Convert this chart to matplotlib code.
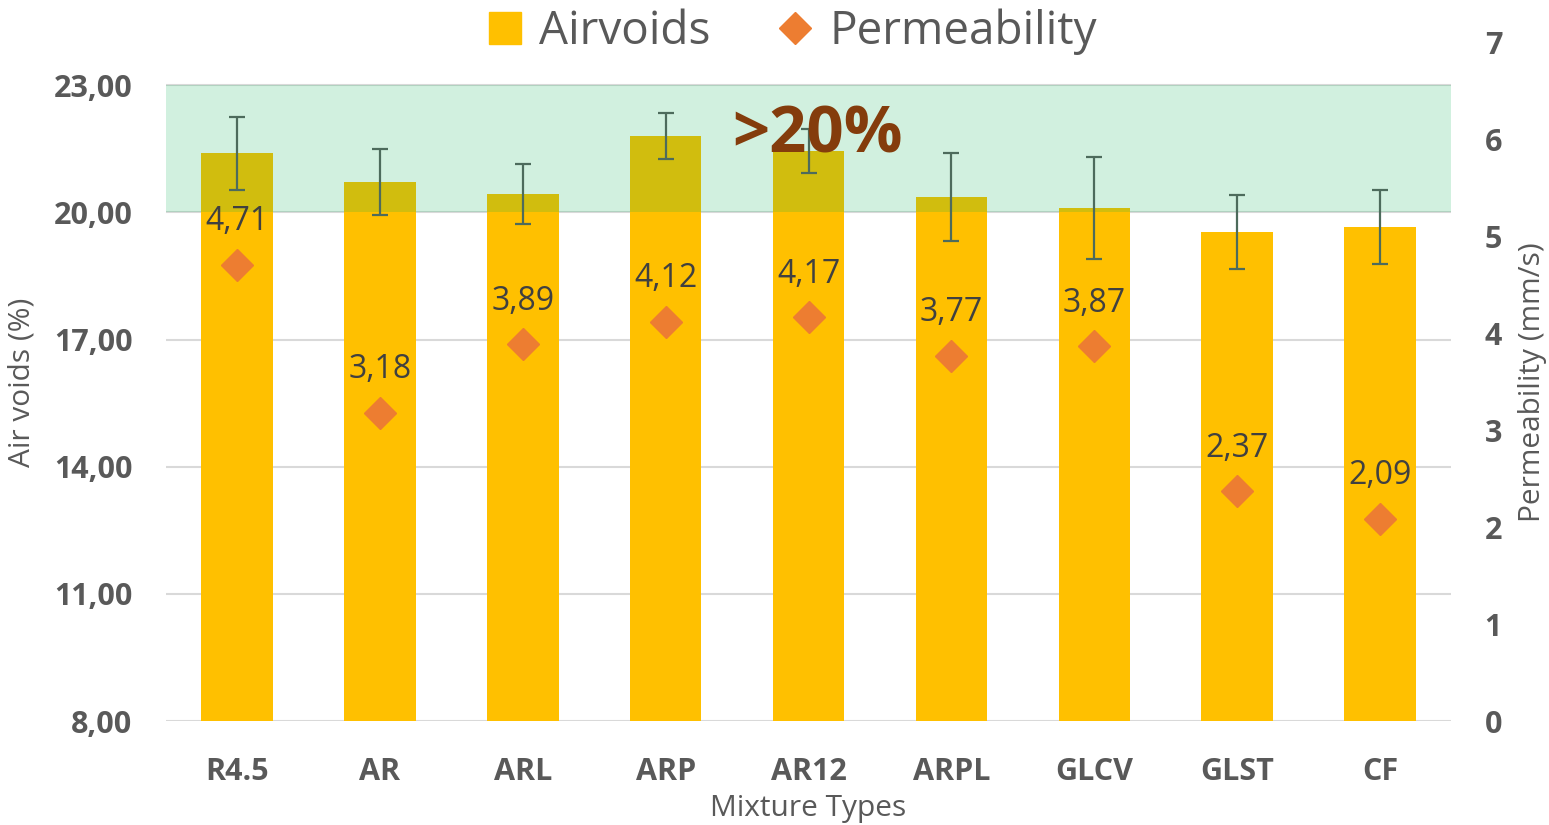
import numpy as np
import matplotlib
matplotlib.use("Agg")
import matplotlib.pyplot as plt
from matplotlib.lines import Line2D
from matplotlib.patches import Patch

plt.rcParams['font.family'] = ['Open Sans', 'DejaVu Sans']

# data
mixtures = ["R4.5", "AR", "ARL", "ARP", "AR12", "ARPL", "GLCV", "GLST", "CF"]
airvoids = [21.40, 20.72, 20.44, 21.81, 21.45, 20.37, 20.11, 19.54, 19.66]
airvoids_err = [0.86, 0.77, 0.71, 0.54, 0.52, 1.04, 1.20, 0.88, 0.87]
permeability = [4.71, 3.18, 3.89, 4.12, 4.17, 3.77, 3.87, 2.37, 2.09]
left_ticks = [8, 11, 14, 17, 20, 23]
right_ticks = [0, 1, 2, 3, 4, 5, 6, 7]

gray = '#595959'
bar_col = '#FFC000'
dia_col = '#ED7D31'

fig = plt.figure(figsize=(15.49, 8.25), dpi=100)
ax = fig.add_axes([0.107, 0.126, 0.830, 0.822])
x = np.arange(len(mixtures))

ax.bar(x, airvoids, width=0.5, color=bar_col, zorder=2)
ax.errorbar(x, airvoids, yerr=airvoids_err, fmt='none', ecolor='#4d6b5c',
            elinewidth=1.6, capsize=6, capthick=1.6, zorder=4)
ax.axhspan(20, 23, color='#00B050', alpha=0.18, lw=0, zorder=3)
ax.text(4.06, 21.8, ">20%", color='#843C0C', fontsize=47, fontweight='bold',
        ha='center', va='center', zorder=5)

ax.set_ylim(8, 24)
ax.set_xlim(-0.5, len(mixtures) - 0.5)
ax.set_yticks(left_ticks)
ax.set_yticklabels([f"{v:.2f}".replace('.', ',') for v in left_ticks])
ax.set_xticks(x)
ax.set_xticklabels(mixtures)
ax.yaxis.grid(True, color='#D9D9D9', lw=1.5, zorder=0)
ax.set_axisbelow(True)
for s in ax.spines.values():
    s.set_visible(False)
ax.tick_params(axis='y', length=0, pad=24, labelsize=22, colors=gray)
ax.tick_params(axis='x', length=0, pad=26, labelsize=22, colors=gray)
for lab in ax.get_xticklabels() + ax.get_yticklabels():
    lab.set_fontweight('bold')
ax.set_ylabel("Air voids (%)", fontsize=21.5, color=gray, labelpad=12)
ax.set_xlabel("Mixture Types", fontsize=21.5, color=gray, labelpad=5)

ax2 = ax.twinx()
ax2.plot(x, permeability, linestyle='none', marker='D', ms=16, color=dia_col, zorder=5)
for xi, p in zip(x, permeability):
    ax2.annotate(f"{p:.2f}".replace('.', ','), (xi, p), xytext=(0, 31),
                 textcoords='offset points', ha='center', va='center',
                 fontsize=23, color='#404040')
ax2.set_ylim(0, 7)
ax2.set_yticks(right_ticks)
for s in ax2.spines.values():
    s.set_visible(False)
ax2.tick_params(axis='y', length=0, pad=24, labelsize=22, colors=gray)
for lab in ax2.get_yticklabels():
    lab.set_fontweight('bold')
ax2.set_ylabel("Permeability (mm/s)", fontsize=21.5, color=gray, labelpad=11)

handles = [Patch(color=bar_col, label='Airvoids'),
           Line2D([], [], linestyle='none', marker='D', ms=16, color=dia_col,
                  label='Permeability')]
fig.legend(handles=handles, loc='center', bbox_to_anchor=(0.512, 0.962), ncol=2,
           frameon=False, fontsize=33, labelcolor=gray, handlelength=0.7,
           handleheight=0.7, handletextpad=0.4, columnspacing=1.5)

fig.savefig("out.png", dpi=100)
